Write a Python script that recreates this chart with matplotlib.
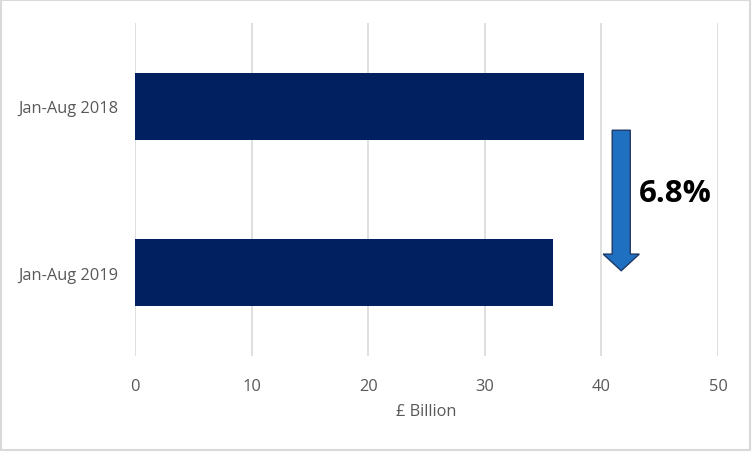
import matplotlib
matplotlib.use('Agg')
import matplotlib.pyplot as plt
from matplotlib.patches import FancyArrow, Rectangle

periods = ['Jan-Aug 2018', 'Jan-Aug 2019']
values = [38.5, 35.85]
change_label = '6.8%'
x_ticks = [0, 10, 20, 30, 40, 50]

plt.rcParams['font.family'] = ['Open Sans', 'DejaVu Sans']

fig = plt.figure(figsize=(7.52, 4.52), dpi=100)
ax = fig.add_axes([0.1795, 0.2102, 0.9548 - 0.1795, 0.9469 - 0.2102])

ypos = list(range(len(periods)))
ax.barh(ypos, values, height=0.4, color='#002060', zorder=3)

ax.set_xlim(0, 50)
ax.set_ylim(1.5, -0.5)
ax.set_xticks(x_ticks)
ax.set_yticks(ypos)
ax.set_yticklabels(periods)
ax.tick_params(axis='both', length=0, labelsize=11.8, colors='#595959')
ax.tick_params(axis='x', pad=16)
ax.tick_params(axis='y', pad=12)
ax.grid(axis='x', color='#D9D9D9', linewidth=1.2, zorder=0)
for s in ax.spines.values():
    s.set_visible(False)
ax.set_xlabel('£ Billion', fontsize=11.8, color='#595959', labelpad=6)

# arrow showing the drop
arr = FancyArrow(41.7, 0.144, 0, 0.844, width=1.55, head_width=3.1,
                 head_length=0.1, length_includes_head=True,
                 facecolor='#1F70C1', edgecolor='#1F3864', linewidth=1, zorder=4)
ax.add_patch(arr)
ax.text(43.2, 0.52, change_label, fontsize=22.5, fontweight='bold',
        color='black', va='center', ha='left', zorder=5)

fig.patches.append(Rectangle((0.001, 0.002), 0.997, 0.995, transform=fig.transFigure,
                             fill=False, edgecolor='#D9D9D9', linewidth=1.5))

fig.savefig('out.png', dpi=100)
